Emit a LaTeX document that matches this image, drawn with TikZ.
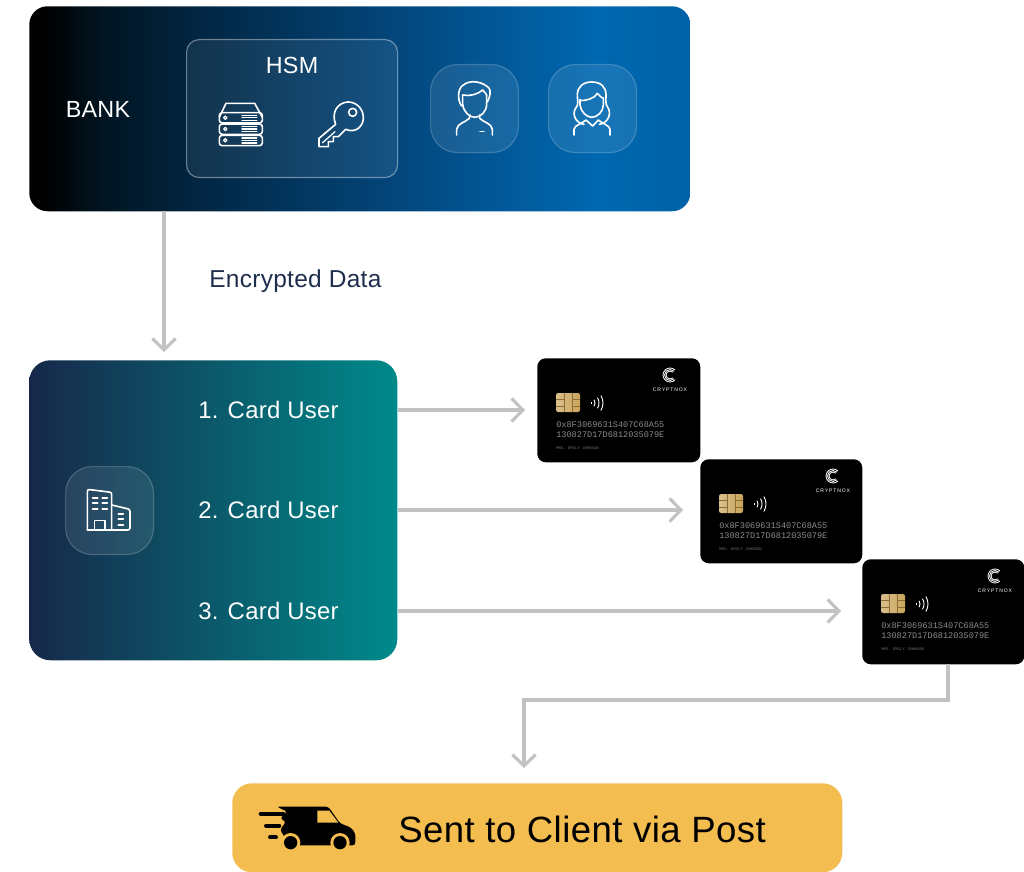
\documentclass[tikz,border=0pt]{standalone}
\usepackage{fontspec}
\setmainfont[LetterSpace=1.2]{Liberation Sans}
\setmonofont{Liberation Mono}
\usetikzlibrary{arrows.meta}

\definecolor{linegray}{HTML}{C2C2C2}
\definecolor{inkblue}{HTML}{1F2E4D}
\definecolor{postyellow}{HTML}{F4BD4F}
\definecolor{chipgold}{HTML}{C9A45A}
\definecolor{chipdark}{HTML}{8A6E35}
\definecolor{bankA}{HTML}{011420}
\definecolor{bankB}{HTML}{02243F}
\definecolor{bankC}{HTML}{03477D}
\definecolor{bankD}{HTML}{02599A}
\definecolor{bankE}{HTML}{0068B0}
\definecolor{bankF}{HTML}{0062A6}
\definecolor{teamleft}{HTML}{16284A}
\definecolor{teamright}{HTML}{008A8A}

\pgfdeclarehorizontalshading{bankfade}{100bp}{color(0bp)=(black); color(26bp)=(black); color(30.4bp)=(bankA); color(37bp)=(bankB); color(53bp)=(bankC); color(61bp)=(bankD); color(68bp)=(bankE); color(75bp)=(bankF); color(100bp)=(bankF)}
\pgfdeclarehorizontalshading{teamfade}{100bp}{color(0bp)=(teamleft); color(25bp)=(teamleft); color(75bp)=(teamright); color(100bp)=(teamright)}

\tikzset{
  box/.style 2 args={minimum width=#1*0.025cm, minimum height=#2*0.025cm, anchor=north west, inner sep=0pt},
  glass/.style={fill=white, fill opacity=0.09, draw=white, draw opacity=0.2, line width=0.8pt},
  icon/.style={draw=white, line width=1.15pt, line cap=round, line join=round},
  link/.style={draw=linegray, line width=2.2pt, -{Straight Barb[length=8pt,width=16.5pt,line width=2.2pt]}},
  whitetext/.style={text=white, inner sep=0pt},
  label/.style={font=\fontsize{17}{17}\selectfont},
  cardtext/.style={text=#1, inner sep=0pt, anchor=west, font=\ttfamily\fontsize{6.1}{6.1}\selectfont},
  pics/cardface/.style={code={
    \shade[left color=chipgold!70!white, right color=chipgold, rounded corners=1.5pt] (19,35) rectangle (43,54);
    \draw[chipdark, line width=0.3pt] (19,41) -- (27,41) -- (27,48) -- (19,48) (43,41) -- (35,41) -- (35,48) -- (43,48) (27,35) -- (27,41) (35,35) -- (35,41) (27,48) -- (27,54) (35,48) -- (35,54);
    \foreach \r in {2.5,6,10,14}
      \draw[white, line width=0.65pt] (52,45) ++(-32:\r) arc[start angle=-32, end angle=32, radius=\r];
    \foreach \r in {4,5.5,7}
      \draw[white, line width=0.6pt] (133,17) ++(45:\r) arc[start angle=45, end angle=315, radius=\r];
    \node[text=white, inner sep=0pt, font=\fontsize{3.6}{3.6}\selectfont] at (133,32) {C\,R\,Y\,P\,T\,N\,O\,X};
    \node[cardtext=black!45] at (19,67) {0x8F3069631S407C68A55};
    \node[cardtext=black!45] at (19,77) {130827D17D6812035079E};
    \node[cardtext=black!55, font=\ttfamily\fontsize{2.8}{2.8}\selectfont] at (19,90) {MRS. EMILY JOHNSON};
  }}
}

\begin{document}
\begin{tikzpicture}[x=0.025cm, y=-0.025cm]
  \useasboundingbox (0,0) rectangle (1024,872);

  \node[box={661}{205}, shading=bankfade, rounded corners=13pt] (bank) at (29,6) {};
  \node[box={368}{300}, shading=teamfade, rounded corners=15pt] (team) at (29,360) {};
  \node[box={610}{89}, fill=postyellow, rounded corners=14pt] (post) at (232,783) {};

  \node[box={211}{138}, glass, fill opacity=0.07, draw opacity=0.4, rounded corners=9pt] (hsm) at (186,39) {};
  \node[box={88}{88}, glass, rounded corners=19pt] (manTile) at (430,64) {};
  \node[box={88}{88}, glass, rounded corners=19pt] (womanTile) at (548,64) {};
  \node[box={88}{88}, glass, rounded corners=19pt] (cityTile) at (65,466) {};

  \node[box={163}{104}, fill=black, rounded corners=6pt] (card1) at (537,358) {};
  \node[box={162}{104}, fill=black, rounded corners=6pt] (card2) at (700,459) {};
  \node[box={162}{105}, fill=black, rounded corners=6pt] (card3) at (862,559) {};
  \pic at (537,358) {cardface};
  \pic at (700,459) {cardface};
  \pic at (862,559) {cardface};

  \node[whitetext, font=\fontsize{16.6}{16.6}\selectfont] (bankLabel) at (98,109) {BANK};
  \node[whitetext, font=\fontsize{16.6}{16.6}\selectfont] (hsmLabel) at (292,65) {HSM};
  \node[text=inkblue, inner sep=0pt, anchor=west, font=\fontsize{17.4}{17.4}\selectfont] (dataLabel) at (209,281) {Encrypted Data};
  \node[whitetext, anchor=west, label] (user1) at (198,410) {1. Card User};
  \node[whitetext, anchor=west, label] (user2) at (198,510) {2. Card User};
  \node[whitetext, anchor=west, label] (user3) at (198,611) {3. Card User};
  \node[text=black, inner sep=0pt, anchor=west, font=\fontsize{26}{26}\selectfont] (postLabel) at (398,829) {Sent to Client via Post};

  \coordinate (bankOut) at (164,211);
  \coordinate (cardOut) at (948,664);
  \coordinate (postIn) at (524,783);

  \draw[link, shorten >=5.7pt] (bankOut) -- (bankOut |- team.north);
  \draw[link] (team.east |- user1) -- ([xshift=-12*0.025cm]card1.west |- user1);
  \draw[link] (team.east |- user2) -- ([xshift=-17*0.025cm]card2.west |- user2);
  \draw[link] (team.east |- user3) -- ([xshift=-21*0.025cm]card3.west |- user3);
  \draw[link] (cardOut) -- ++(0,36) -| ([yshift=15*0.025cm]postIn);

  % server
  \begin{scope}[shift={(180,30)}, scale=1/3]
    \draw[icon] (118,262) -- (138,220) -- (224,220) -- (247,262);
    \foreach \y in {248,282,316} {
      \draw[icon, rounded corners=2pt] (118,\y) rectangle (247,\y+31);
      \draw[icon, line width=0.9pt] (136,\y+15) circle (5);
      \draw[icon, line width=1pt] (186,\y+8) -- (230,\y+8) (186,\y+15) -- (230,\y+15) (186,\y+23) -- (230,\y+23);
    }
    % key
    \draw[icon] (467,283) -- (417,325) -- (417,350) -- (445,350) -- (445,335) -- (460,335) -- (460,320) -- (475,320) -- (497,298)
      .. controls (530,312) and (552,285) .. (550,260)
      .. controls (548,232) and (525,215) .. (503,216)
      .. controls (475,218) and (452,245) .. (467,283);
    \draw[icon] (518,247) circle (12);
    \draw[icon, line width=0.9pt] (428,338) -- (465,305);
    % man
    \draw[icon] (848,195) -- (848,222) .. controls (850,245) and (868,262) .. (884,262) .. controls (902,262) and (920,245) .. (920,222) -- (920,195);
    \draw[icon] (845,228) .. controls (832,212) and (832,175) .. (850,165) .. controls (870,150) and (890,155) .. (905,160) .. controls (915,165) and (930,172) .. (930,182) .. controls (932,195) and (926,208) .. (922,216);
    \draw[icon] (848,195) .. controls (870,200) and (895,192) .. (908,180) .. controls (912,185) and (918,190) .. (920,195);
    \draw[icon] (830,315) -- (830,298) .. controls (832,280) and (855,278) .. (868,265) (870,255) -- (868,265);
    \draw[icon] (937,315) -- (937,298) .. controls (935,280) and (912,278) .. (899,265) (899,255) -- (899,265);
    \draw[icon, line width=1pt] (900,304) -- (912,304);
    % woman
    \draw[icon] (1200,208) -- (1200,225) .. controls (1202,245) and (1220,262) .. (1235,262) .. controls (1252,262) and (1270,245) .. (1270,225) -- (1270,205);
    \draw[icon] (1200,212) .. controls (1220,212) and (1245,205) .. (1252,190) .. controls (1258,198) and (1265,203) .. (1270,205);
    \draw[icon] (1212,283) .. controls (1188,280) and (1172,252) .. (1190,230) .. controls (1196,222) and (1192,210) .. (1192,195) .. controls (1192,170) and (1210,156) .. (1235,156) .. controls (1262,156) and (1278,170) .. (1278,195) .. controls (1278,210) and (1276,222) .. (1282,230) .. controls (1298,252) and (1282,280) .. (1258,283);
    \draw[icon] (1182,315) -- (1182,298) .. controls (1184,285) and (1205,282) .. (1218,270) -- (1238,288) -- (1255,270) .. controls (1268,282) and (1288,285) .. (1290,298) -- (1290,315);
  \end{scope}

  % building
  \begin{scope}[shift={(50,450)}, scale=1/3]
    \draw[icon, rounded corners=1.5pt] (112,240) -- (112,118) -- (185,127) -- (185,240);
    \draw[icon, rounded corners=1.5pt] (185,165) -- (240,178) -- (240,240) -- (112,240);
    \draw[icon] (133,240) -- (133,212) -- (165,212) -- (165,240);
    \foreach \y in {143,160,178} {
      \draw[icon, line width=1.2pt] (128,\y) -- (143,\y) (157,\y) -- (172,\y);
    }
    \foreach \y in {192,208,226} {
      \draw[icon, line width=1.2pt] (205,\y) -- (220,\y);
    }
  \end{scope}

  % van
  \begin{scope}[shift={(230,780)}, scale=1/3]
    \fill[black, rounded corners=2pt] (140,80) -- (295,80) -- (330,130) -- (362,142) -- (376,160) -- (376,196) -- (150,196) -- (165,172) -- (150,150) -- (168,125) -- (150,115) -- (172,95) -- cycle;
    \fill[postyellow] (262,92) -- (298,92) -- (325,128) -- (262,128) -- cycle;
    \fill[postyellow] (182,188) circle (29);
    \fill[postyellow] (330,188) circle (29);
    \fill[black] (182,188) circle (20);
    \fill[black] (330,188) circle (20);
    \draw[black, line width=2.8pt, line cap=round] (92,101) -- (160,101) (108,137) -- (148,137) (120,172) -- (138,172);
  \end{scope}
\end{tikzpicture}
\end{document}
